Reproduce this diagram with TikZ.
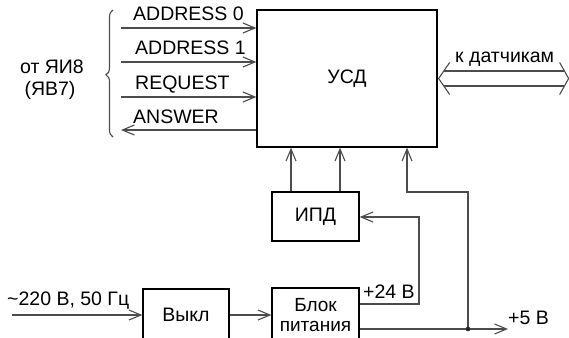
\documentclass[tikz,border=0pt]{standalone}
\usepackage{fontspec}
\setmainfont{Liberation Sans}
\usetikzlibrary{arrows.meta,decorations.pathreplacing,calc}
\begin{document}
\begin{tikzpicture}[x=1pt,y=-1pt,
  txt/.style={font=\fontsize{19.5}{21}\selectfont},
  box/.style={draw=black,line width=1.3pt,inner sep=0pt,txt},
  conn/.style={draw=black!70,line width=1.1pt},
  arr/.style={conn,-{Straight Barb[length=12pt,width=10pt]}},
  lbl/.style={inner sep=0pt,txt}]
\clip (0,0) rectangle (569,337);
% boxes
\node[box,minimum width=180pt,minimum height=137pt] (usd) at (347,78.5) {УСД};
\node[box,minimum width=87pt,minimum height=49pt] (ipd) at (315.5,216.5) {ИПД};
\node[box,minimum width=87pt,minimum height=54pt,align=center,font=\fontsize{19}{19.5}\selectfont] (bp) at (315.5,315) {Блок\\питания};
\node[box,minimum width=86pt,minimum height=52pt] (vykl) at (186,315) {Выкл};
% labels
\node[lbl,anchor=base west] (la0) at (133,21) {ADDRESS 0};
\node[lbl,anchor=base west] (la1) at (135,55) {ADDRESS 1};
\node[lbl,anchor=base west] (lrq) at (135,89) {REQUEST};
\node[lbl,anchor=base west] (lan) at (133,123) {ANSWER};
\node[lbl,anchor=base] (lot1) at (52,73) {от ЯИ8};
\node[lbl,anchor=base] (lot2) at (50,95) {(ЯВ7)};
\node[lbl,anchor=base west] (ldat) at (455,62) {к датчикам};
\node[lbl,anchor=base west] (lin) at (7,305) {\char"7E 220 В, 50 Гц};
\node[lbl,anchor=base west] (l24) at (363,298) {+24 В};
\node[lbl,anchor=base west] (l5) at (508,324) {+5 В};
% input signal lines
\coordinate (s0) at (121,28);
\coordinate (s1) at (121,62);
\coordinate (s2) at (121,97);
\coordinate (s3) at (121,130);
\draw[arr] (s0) -- (s0 -| usd.west);
\draw[arr] (s1) -- (s1 -| usd.west);
\draw[arr] (s2) -- (s2 -| usd.west);
\draw[arr] (s3 -| usd.west) -- (s3);
% brace
\coordinate (bt) at (113,10);
\coordinate (bb) at (113,137);
\draw[conn,decorate,decoration={brace,amplitude=7pt,aspect=0.49}] (bb) -- (bt);
% double arrow to sensors
\coordinate (k) at (usd.east);
\draw[conn] ($(k)+(12,-16)$) -- ($(k)+(1,0)$) -- ($(k)+(12,16)$);
\draw[conn] ($(k)+(122,-16)$) -- ($(k)+(131,0)$) -- ($(k)+(122,16)$);
\draw[conn] ($(k)+(6.2,-7.5)$) -- ($(k)+(126.8,-7.5)$);
\draw[conn] ($(k)+(6.2,7.5)$) -- ($(k)+(126.8,7.5)$);
% IPD -> USD
\coordinate (i1) at ([xshift=-24.5pt]ipd.north);
\coordinate (i2) at ([xshift=24.5pt]ipd.north);
\draw[arr] (i1) -- (i1 |- usd.south);
\draw[arr] (i2) -- (i2 |- usd.south);
% +5 V
\coordinate (p5) at (bp.east |- 0,329);
\coordinate (dot) at (468,329);
\coordinate (e5) at (508,329);
\coordinate (u3) at (407,192);
\draw[arr] (p5) -- (e5);
\draw[arr] (dot) |- (u3) -- (u3 |- usd.south);
\fill[black!85] (dot) circle (2.3pt);
% +24 V
\coordinate (p24) at (bp.east |- 0,304);
\coordinate (t24) at (419,217);
\draw[arr] (p24) -| (t24) -- (t24 -| ipd.east);
% mains
\coordinate (in) at (12,315);
\draw[arr] (in) -- (vykl.west);
\draw[arr] (vykl.east) -- (vykl.east -| bp.west);
\end{tikzpicture}
\end{document}
